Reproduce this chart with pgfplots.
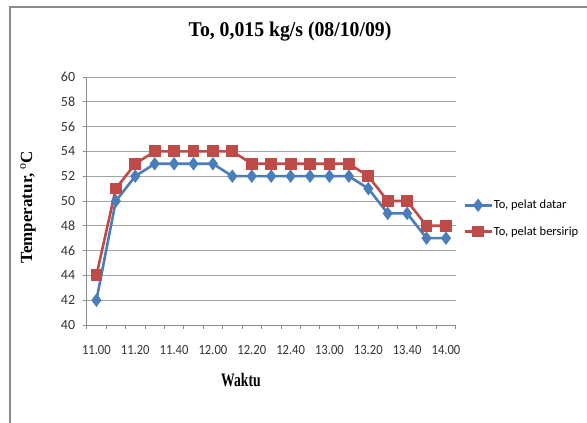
\documentclass[border=0pt]{standalone}
\usepackage{pgfplots}
\pgfplotsset{compat=1.18}
\usepackage{fontspec}
\setmainfont{Liberation Serif}
\newfontfamily\calfont{Carlito}
\definecolor{xlblue}{HTML}{4A7EBB}
\definecolor{xlred}{HTML}{BE4B48}
\definecolor{gridgray}{HTML}{8C8C8C}
\begin{document}
\begin{tikzpicture}
\path[use as bounding box] (0,0) rectangle (587bp,423bp);
\draw[gridgray, line width=1.2bp] (10bp,0) -- (10bp,416bp) -- (587bp,416bp);
\begin{axis}[
  at={(86.7bp,98bp)}, anchor=south west,
  scale only axis, width=369bp, height=248bp,
  xmin=-0.5, xmax=18.5, ymin=40, ymax=60,
  xtick={0,2,...,18},
  xticklabels={11.00,11.20,11.40,12.00,12.20,12.40,13.00,13.20,13.40,14.00},
  minor xtick={-0.5,0.5,...,18.5},
  ytick={40,42,...,60},
  /pgf/number format/assume math mode=true,
  ticklabel style={font=\calfont\fontsize{14bp}{16bp}\selectfont, text=black!80},
  axis x line*=bottom, axis y line*=left,
  axis line style={gridgray, line width=0.8bp},
  every tick/.style={gridgray, line width=0.8bp},
  major x tick style={draw=none},
  tick align=outside,
  major tick length=4bp, minor tick length=4bp,
  xticklabel style={yshift=-13bp, xscale=0.9},
  yticklabel style={xshift=-4bp},
  ymajorgrids, grid style={gridgray!80, line width=0.8bp},
  title={\scalebox{0.94}[1]{\fontsize{21bp}{24bp}\selectfont\bfseries To, 0,015 kg/s (08/10/09)}},
  title style={at={(0.551,1.161)}, anchor=center},
  xlabel={\scalebox{0.72}[1]{\fontsize{19bp}{22bp}\selectfont\bfseries Waktu}},
  xlabel style={at={(0.418,-0.222)}, anchor=center},
  ylabel={\fontsize{17bp}{20bp}\selectfont\bfseries Temperatur, $^{\mathrm{o}}$C},
  ylabel style={at={(-0.159,0.475)}, anchor=center, rotate=0},
  legend style={at={(1.02,0.43)}, anchor=west, draw=none, fill=none,
    font=\calfont\fontsize{12.5bp}{15bp}\selectfont, row sep=14bp,
    inner sep=0pt, nodes={inner sep=1bp}},
  legend cell align=left,
  legend image code/.code={\draw[#1] (0bp,0bp) -- (27bp,0bp); \draw[#1, only marks] plot coordinates {(13.5bp,0bp)};},
  clip=false,
]
\addplot[xlblue, line width=2.6bp, mark=diamond*, mark size=4.6bp, mark options={solid}]
  coordinates {(0,42)(1,50)(2,52)(3,53)(4,53)(5,53)(6,53)(7,52)(8,52)(9,52)(10,52)(11,52)(12,52)(13,52)(14,51)(15,49)(16,49)(17,47)(18,47)};
\addlegendentry{To, pelat datar}
\addplot[xlred, line width=2.6bp, mark=square*, mark size=4.6bp, mark options={solid}]
  coordinates {(0,44)(1,51)(2,53)(3,54)(4,54)(5,54)(6,54)(7,54)(8,53)(9,53)(10,53)(11,53)(12,53)(13,53)(14,52)(15,50)(16,50)(17,48)(18,48)};
\addlegendentry{To, pelat bersirip}
\end{axis}
\end{tikzpicture}
\end{document}
